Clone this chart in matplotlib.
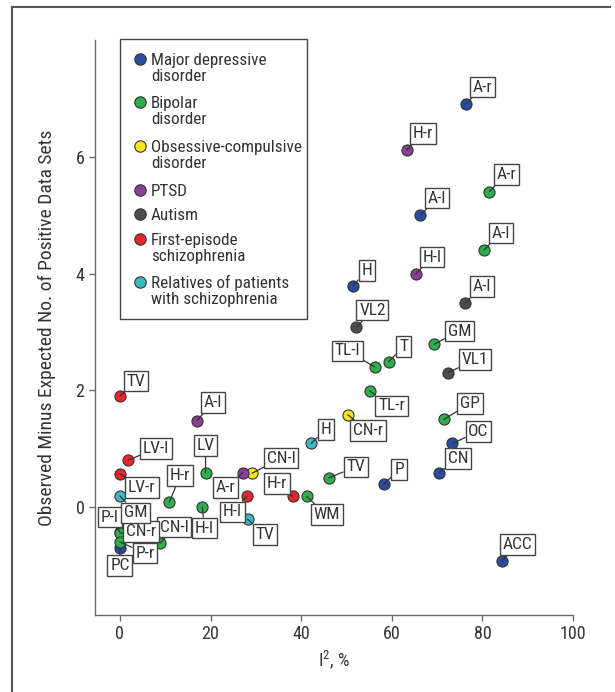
import matplotlib
matplotlib.use("Agg")
import matplotlib.pyplot as plt
from matplotlib.lines import Line2D
from matplotlib.patches import Rectangle
from matplotlib import font_manager

# ---------------- data ----------------
groups = ["Major depressive\ndisorder", "Bipolar\ndisorder", "Obsessive-compulsive\ndisorder",
          "PTSD", "Autism", "First-episode\nschizophrenia", "Relatives of patients\nwith schizophrenia"]
colors = ["#2b4da0", "#2fae4e", "#f4e61a", "#8b3f97", "#4d4d4d", "#e8252d", "#3cb9c3"]

mdd_labels = ["A-r", "A-l", "H", "OC", "CN", "P", "ACC", "PC"]
mdd_x = [76.3, 66.3, 51.4, 73.4, 70.4, 58.3, 84.4, 0.0]
mdd_y = [6.90, 5.00, 3.79, 1.09, 0.59, 0.39, -0.92, -0.71]

bip_labels = ["A-r", "A-l", "GM", "T", "TL-l", "TL-r", "GP", "TV", "WM", "LV", "H-r", "H-l",
              "CN-l", "P-l", "CN-r", "P-r"]
bip_x = [81.5, 80.3, 69.3, 59.3, 56.2, 55.1, 71.5, 46.1, 41.2, 18.9, 10.9, 18.2, 8.9, 0.0, 0.0, 0.0]
bip_y = [5.40, 4.40, 2.79, 2.49, 2.40, 1.99, 1.50, 0.50, 0.18, 0.59, 0.08, 0.00, -0.62, -0.43, -0.45, -0.60]

ocd_labels = ["CN-r", "CN-l"]
ocd_x = [50.3, 29.2]
ocd_y = [1.58, 0.58]

ptsd_labels = ["H-r", "H-l", "A-l", "A-r"]
ptsd_x = [63.3, 65.3, 17.0, 27.1]
ptsd_y = [6.11, 3.99, 1.48, 0.59]

aut_labels = ["A-l", "VL2", "VL1"]
aut_x = [76.2, 52.2, 72.4]
aut_y = [3.50, 3.08, 2.30]

fes_labels = ["TV", "LV-l", "LV-r", "H-l", "H-r"]
fes_x = [0.0, 1.8, 0.0, 28.1, 38.1]
fes_y = [1.90, 0.80, 0.57, 0.19, 0.18]

rel_labels = ["H", "GM", "TV"]
rel_x = [42.2, 0.0, 28.2]
rel_y = [1.09, 0.19, -0.21]

series = [(mdd_labels, mdd_x, mdd_y), (bip_labels, bip_x, bip_y), (ocd_labels, ocd_x, ocd_y),
          (ptsd_labels, ptsd_x, ptsd_y), (aut_labels, aut_x, aut_y), (fes_labels, fes_x, fes_y),
          (rel_labels, rel_x, rel_y)]

# label box offsets (pixels, right / down) per group
offsets = [
    [(17, -17), (17, -17), (14, -15), (26, -12), (19, -14), (15, -15), (15, -16), (0, 17)],
    [(17, -17), (17, -17), (26, -13), (15, -15), (-27, -16), (22, 15), (26, -16), (27, -11),
     (20, 18), (0, -27), (11, -27), (2, 21), (14, -16), (-10, -15), (21, -2), (25, 11)],
    [(20, 16), (29, -15)],
    [(16, -17), (16, -17), (16, -18), (-17, 15)],
    [(17, -16), (16, -17), (27, -13)],
    [(16, -15), (28, -12), (22, 14), (-15, 16), (-16, -13)],
    [(15, -14), (16, 17), (17, 15)],
]

# ---------------- fonts ----------------
def pick_font():
    cands = []
    for f in font_manager.fontManager.ttflist:
        key = (f.name + " " + f.fname).lower()
        if ("narrow" in key or "condensed" in key) and f.style == "normal":
            w = f.weight if isinstance(f.weight, int) else {"normal": 400, "regular": 400}.get(f.weight, 700)
            if w in (400, 500):
                cands.append(f)
    prio = ["liberation sans narrow", "roboto condensed", "dejavu sans", "open sans", "noto sans"]
    for p in prio:
        for f in cands:
            if p in f.name.lower():
                return f.name, f.stretch
    if cands:
        return cands[0].name, cands[0].stretch
    return "Roboto", "normal"

fam, stretch = pick_font()
plt.rcParams["font.family"] = [fam, "DejaVu Sans"]
plt.rcParams["font.stretch"] = stretch
plt.rcParams["mathtext.fontset"] = "custom"
plt.rcParams["mathtext.rm"] = fam
plt.rcParams["mathtext.it"] = fam
plt.rcParams["mathtext.bf"] = fam
tc = "#333333"

W, H = 615, 692
def P(x, y):
    return (x / W, 1 - y / H)

fig = plt.figure(figsize=(W / 100, H / 100), dpi=100)
px0, px1, py0, py1 = 95, 573, 40, 615
ax = fig.add_axes([px0 / W, 1 - py1 / H, (px1 - px0) / W, (py1 - py0) / H])
ax.set_xlim(-5.5, 100)
ax.set_ylim(-1.85, 8)

for s in ["top", "right"]:
    ax.spines[s].set_visible(False)
for s in ["left", "bottom"]:
    ax.spines[s].set_color("#6a6a6a")
    ax.spines[s].set_linewidth(1.0)
ax.set_xticks([0, 20, 40, 60, 80, 100])
ax.set_yticks([0, 2, 4, 6])
ax.tick_params(axis="both", colors="#6a6a6a", labelcolor=tc, labelsize=13, length=4, width=1)
ax.set_xlabel(r"I$^{\mathrm{2}}$, %", fontsize=13, color=tc, labelpad=4)
ax.set_ylabel("Observed Minus Expected No. of Positive Data Sets", fontsize=14, color=tc)
ax.yaxis.set_label_coords(-0.082, 0.5)

for (labs, xs, ys), col, offs in zip(series, colors, offsets):
    ax.scatter(xs, ys, s=64, color=col, edgecolor="#333333", linewidth=0.8, zorder=3)
    for lab, x, y, (dx, dy) in zip(labs, xs, ys, offs):
        ax.annotate(lab, xy=(x, y), xytext=(dx * 0.72, -dy * 0.72), textcoords="offset points",
                    ha="center", va="center", fontsize=12.5, color=tc, zorder=5,
                    bbox=dict(boxstyle="square,pad=0.16", fc="white", ec="#444444", lw=1.0),
                    arrowprops=dict(arrowstyle="-", color="#333333", lw=0.9, shrinkA=0, shrinkB=0))

# ---------------- manual legend ----------------
leg_box = (120, 39, 307, 319)  # left, top, right, bottom in pixels
fig.add_artist(Rectangle(P(leg_box[0], leg_box[3]), (leg_box[2] - leg_box[0]) / W,
                         (leg_box[3] - leg_box[1]) / H, transform=fig.transFigure,
                         fc="white", ec="#444444", lw=1.0, zorder=6))
first_y = [59.3, 102.3, 146.0, 190.0, 214.3, 239.3, 282.3]
for g, c, yy in zip(groups, colors, first_y):
    fig.add_artist(Line2D([P(140, yy)[0]], [P(140, yy)[1]], marker="o", ls="none", markersize=8.2,
                          markerfacecolor=c, markeredgecolor="#333333", markeredgewidth=0.8,
                          transform=fig.transFigure, zorder=7))
    for k, line in enumerate(g.split("\n")):
        fig.text(*P(151, yy + 16 * k + 6), line, fontsize=12.3, color=tc, ha="left",
                 va="baseline", zorder=7)

# outer frame (top and left)
fig.add_artist(Line2D([12 / W, 610 / W], [1 - 7 / H, 1 - 7 / H], color="#555555", lw=1.5,
                      transform=fig.transFigure))
fig.add_artist(Line2D([12 / W, 12 / W], [1 - 7 / H, 0], color="#555555", lw=1.5,
                      transform=fig.transFigure))

fig.savefig("out.png", dpi=100)
